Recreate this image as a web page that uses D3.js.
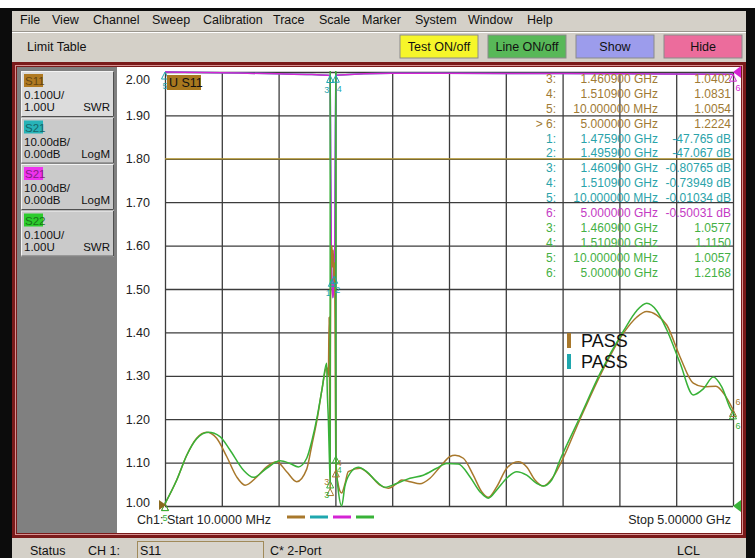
<!DOCTYPE html>
<html><head><meta charset="utf-8">
<script src="https://cdn.jsdelivr.net/npm/d3@7"></script>
<style>body{margin:0;background:#fff}svg{display:block}text{font-family:"Liberation Sans",Arial,sans-serif}</style>
</head><body><svg id="c" width="755" height="558"></svg>
<script>
// ---------- data ----------
const menuItems = ["File","View","Channel","Sweep","Calibration","Trace","Scale","Marker","System","Window","Help"];
const toolButtons = ["Test ON/off","Line ON/off","Show","Hide"];
const traceNames = ["S11","S21","S21","S22"];
const tracePerDiv = ["0.100U/","10.00dB/","10.00dB/","0.100U/"];
const traceRef = ["1.00U","0.00dB","0.00dB","1.00U"];
const traceFormat = ["SWR","LogM","LogM","SWR"];
const yTicks = [2.00,1.90,1.80,1.70,1.60,1.50,1.40,1.30,1.20,1.10,1.00];
const limitS11 = [1.80];

const freqS11 = [0.01,0.113,0.201,0.288,0.376,0.464,0.552,0.64,0.713,0.816,0.903,0.991,1.079,1.167,1.255,1.30,1.35,1.39,1.43,1.445,1.452,1.456,1.4609,1.463,1.466,1.47,1.476,1.482,1.488,1.494,1.50,1.505,1.5109,1.52,1.54,1.562,1.59,1.62,1.723,1.811,1.899,1.972,2.046,2.089,2.162,2.25,2.338,2.426,2.514,2.558,2.631,2.718,2.792,2.85,2.924,3.012,3.114,3.188,3.26,3.333,3.42,3.489,3.656,3.831,4.042,4.154,4.242,4.33,4.418,4.534,4.651,4.74,4.85,4.93,5.0];
const swrS11  = [1.0054,1.06,1.117,1.156,1.17,1.156,1.114,1.067,1.048,1.067,1.09,1.102,1.079,1.056,1.085,1.14,1.205,1.27,1.32,1.30,1.435,1.25,1.0402,1.35,1.52,1.58,1.60,1.55,1.59,1.52,1.56,1.35,1.0831,1.067,1.04,1.03,1.05,1.079,1.087,1.071,1.048,1.041,1.052,1.06,1.056,1.051,1.064,1.09,1.114,1.117,1.11,1.071,1.033,1.02,1.044,1.087,1.102,1.09,1.06,1.046,1.067,1.10,1.20,1.30,1.40,1.435,1.448,1.44,1.417,1.344,1.283,1.275,1.276,1.255,1.2224];

const freqS22 = [0.01,0.113,0.201,0.288,0.39,0.493,0.581,0.698,0.786,0.903,1.02,1.108,1.181,1.255,1.30,1.35,1.39,1.43,1.436,1.445,1.455,1.4609,1.4615,1.5100,1.5109,1.52,1.535,1.562,1.59,1.635,1.708,1.782,1.87,1.943,2.046,2.162,2.279,2.397,2.485,2.587,2.69,2.777,2.85,2.924,3.012,3.1,3.188,3.275,3.333,3.407,3.48,3.656,3.831,4.042,4.154,4.242,4.33,4.418,4.534,4.651,4.74,4.827,4.9,4.988,5.0];
const swrS22  = [1.0057,1.06,1.117,1.155,1.17,1.16,1.129,1.083,1.066,1.087,1.104,1.098,1.09,1.11,1.15,1.21,1.27,1.329,1.26,1.20,1.10,1.0577,2.6,2.6,1.115,1.07,1.03,1.00,1.045,1.075,1.089,1.079,1.056,1.043,1.052,1.064,1.071,1.087,1.098,1.097,1.067,1.033,1.018,1.037,1.064,1.079,1.071,1.052,1.046,1.06,1.106,1.205,1.305,1.405,1.45,1.467,1.45,1.406,1.33,1.256,1.27,1.297,1.275,1.22,1.2168];

const freqS21 = [0.01,0.5,1.0,1.3,1.4609,1.465,1.47,1.4759,1.485,1.4959,1.502,1.506,1.5109,2.0,3.0,4.0,5.0];
const dbS21   = [-0.01,-0.2,-0.4,-0.6,-0.81,-20,-40,-47.765,-52,-47.067,-40,-20,-0.74,-0.3,-0.35,-0.4,-0.5];

// markers
const markerTrace = [0,0,0,0, 1,1,1,1,1, 2, 3,3,3,3];
const markerNum   = ["3","4","5","> 6","1","2","3","4","5","6","3","4","5","6"];
const markerFreqText = ["1.460900 GHz","1.510900 GHz","10.000000 MHz","5.000000 GHz","1.475900 GHz","1.495900 GHz","1.460900 GHz","1.510900 GHz","10.000000 MHz","5.000000 GHz","1.460900 GHz","1.510900 GHz","10.000000 MHz","5.000000 GHz"];
const markerFreq  = [1.4609,1.5109,0.01,5.0, 1.4759,1.4959,1.4609,1.5109,0.01, 5.0, 1.4609,1.5109,0.01,5.0];
const markerValue = [1.0402,1.0831,1.0054,1.2224, -47.765,-47.067,-0.80765,-0.73949,-0.01034, -0.50031, 1.0577,1.1150,1.0057,1.2168];
const markerValueText = ["1.0402","1.0831","1.0054","1.2224","-47.765 dB","-47.067 dB","-0.80765 dB","-0.73949 dB","-0.01034 dB","-0.50031 dB","1.0577","1.1150","1.0057","1.2168"];
const passLabels = ["PASS","PASS"];

// ---------- styles ----------
const traceColors = ["#a8782c","#1fa7ae","#d424d4","#38b238"];
const boxColors = ["#b07a22","#27b3b8","#ee33ee","#2ccc2c"];
const tableColors = ["#a07a34","#2aa3aa","#c43ac4","#44b044"];
const menuX = [20,52,93,152,203,273,319,362,415,468,527];

const svg = d3.select("#c");
const X0 = 165, X1 = 733, YT = 72, YB = 506;
const x = d3.scaleLinear().domain([0.01, 5.0]).range([X0, X1]);
const y = d3.scaleLinear().domain([1.0, 2.0]).range([YB, YT]);
const yDb = d3.scaleLinear().domain([-100, 0]).range([YB, YT]);

// ---------- window chrome ----------
svg.append("rect").attr("width",755).attr("height",558).attr("fill","#fff");
svg.append("rect").attr("x",0).attr("y",8).attr("width",755).attr("height",550).attr("fill","#0c0c0c");
svg.append("rect").attr("x",12).attr("y",11).attr("width",734).attr("height",51).attr("fill","#d4d0c8");
svg.append("line").attr("x1",12).attr("x2",746).attr("y1",31.5).attr("y2",31.5).attr("stroke","#9a968e");
svg.append("line").attr("x1",12).attr("x2",746).attr("y1",32.5).attr("y2",32.5).attr("stroke","#fff");

menuItems.forEach((m,i) => {
  svg.append("text").attr("x",menuX[i]).attr("y",24).attr("font-size",12.5).attr("fill","#111").text(m);
});
svg.append("text").attr("x",27).attr("y",51).attr("font-size",12.5).attr("fill","#111").text("Limit Table");

const btnFill = ["#f6f62a","#58b858","#9c9cec","#ec6c9c"];
toolButtons.forEach((b,i) => {
  const bx = 400 + i*88;
  svg.append("rect").attr("x",bx).attr("y",35).attr("width",78).attr("height",23).attr("fill",btnFill[i])
    .attr("stroke","#8a8a8a").attr("stroke-width",1);
  svg.append("text").attr("x",bx+39).attr("y",51).attr("text-anchor","middle").attr("font-size",12.5).attr("fill","#111").text(b);
});

// main frame
svg.append("rect").attr("x",12).attr("y",62).attr("width",734).attr("height",476).attr("fill","#7a1a1a");
svg.append("rect").attr("x",15.5).attr("y",65.5).attr("width",727).attr("height",469).attr("fill","none").attr("stroke","#d89090");
svg.append("rect").attr("x",17).attr("y",67).attr("width",100).attr("height",466).attr("fill","#808080");
svg.append("rect").attr("x",117).attr("y",67).attr("width",624).attr("height",466).attr("fill","#fff");

// status bar
svg.append("rect").attr("x",12).attr("y",538).attr("width",734).attr("height",20).attr("fill","#d4d0c8");
svg.append("text").attr("x",30).attr("y",555).attr("font-size",12.5).attr("fill","#111").text("Status");
svg.append("text").attr("x",88).attr("y",555).attr("font-size",12.5).attr("fill","#111").text("CH 1:");
svg.append("rect").attr("x",137.5).attr("y",541.5).attr("width",126).attr("height",17).attr("fill","#d8d4cc").attr("stroke","#a08a5a");
svg.append("text").attr("x",140).attr("y",555).attr("font-size",12.5).attr("fill","#111").text("S11");
svg.append("text").attr("x",270).attr("y",555).attr("font-size",12.5).attr("fill","#111").text("C* 2-Port");
svg.append("text").attr("x",677).attr("y",555).attr("font-size",12.5).attr("fill","#111").text("LCL");

// trace buttons
traceNames.forEach((n,i) => {
  const by = 71 + i*46.5;
  svg.append("rect").attr("x",21.5).attr("y",by+0.5).attr("width",92).attr("height",45)
    .attr("fill", i===0 ? "#dcdcdc" : "#cacaca").attr("stroke","#f4f4f4");
  svg.append("path").attr("d",`M21.5,${by+45.5} H113.5 V${by+0.5}`).attr("fill","none").attr("stroke","#505050");
  svg.append("rect").attr("x",24).attr("y",by+3).attr("width",19).attr("height",13).attr("fill",boxColors[i]);
  svg.append("text").attr("x",25).attr("y",by+14).attr("font-size",11.5).attr("fill",d3.color(boxColors[i]).darker(1.6)).text(n);
  svg.append("text").attr("x",24).attr("y",by+28).attr("font-size",11.5).attr("fill","#111").text(tracePerDiv[i]);
  svg.append("text").attr("x",24).attr("y",by+40).attr("font-size",11.5).attr("fill","#111").text(traceRef[i]);
  svg.append("text").attr("x",110).attr("y",by+40).attr("text-anchor","end").attr("font-size",11.5).attr("fill","#111").text(traceFormat[i]);
});

// ---------- grid via axes ----------
const xGrid = d3.range(11).map(i => x.invert(X0 + i*(X1-X0)/10));
const gx = svg.append("g").attr("transform",`translate(0,${YB})`)
  .call(d3.axisBottom(x).tickValues(xGrid).tickSize(-(YB-YT)).tickFormat(""));
gx.select(".domain").remove();
gx.selectAll("line").attr("stroke","#3c3c3c").attr("stroke-width",1.3);

const gy = svg.append("g").attr("transform",`translate(${X0},0)`)
  .call(d3.axisLeft(y).tickValues(yTicks).tickSize(-(X1-X0)).tickPadding(15).tickFormat(d3.format(".2f")));
gy.select(".domain").remove();
gy.selectAll("line").attr("stroke","#3c3c3c").attr("stroke-width",1.3);
gy.selectAll("text").attr("font-size",12.5).attr("fill","#222").attr("font-family","Liberation Sans, Arial, sans-serif")
  .attr("dy", d => d===2.0 ? "0.95em" : d===1.0 ? "0.05em" : "0.32em");

svg.selectAll(".lim").data(limitS11).join("line").attr("x1",X0).attr("x2",X1)
  .attr("y1",d=>y(d)).attr("y2",d=>y(d)).attr("stroke","#b89a30").attr("stroke-width",1.3);

// ---------- traces ----------
svg.append("clipPath").attr("id","pc").append("rect").attr("x",X0-2).attr("y",YT-1).attr("width",X1-X0+4).attr("height",YB-YT+2);
const plot = svg.append("g").attr("clip-path","url(#pc)");
const lineSwr = d3.line().x(d=>x(d[0])).y(d=>y(d[1])).curve(d3.curveMonotoneX);
const lineDb = d3.line().x(d=>x(d[0])).y(d=>yDb(d[1])).curve(d3.curveMonotoneX);
const s21 = freqS21.map((f,i)=>[f,dbS21[i]]);
plot.append("path").attr("d",lineDb(s21)).attr("fill","none").attr("stroke",traceColors[1]).attr("stroke-width",1.5);
plot.append("path").attr("d",lineDb(s21)).attr("fill","none").attr("stroke",traceColors[2]).attr("stroke-width",1.5);
plot.append("path").attr("d",lineSwr(freqS11.map((f,i)=>[f,swrS11[i]]))).attr("fill","none").attr("stroke",traceColors[0]).attr("stroke-width",1.5);
plot.append("path").attr("d",lineSwr(freqS22.map((f,i)=>[f,swrS22[i]]))).attr("fill","none").attr("stroke",traceColors[3]).attr("stroke-width",1.5);

// markers on traces
markerFreq.forEach((f,i) => {
  const t = markerTrace[i];
  const px = x(f);
  const py = (t===1||t===2) ? yDb(markerValue[i]) : y(markerValue[i]);
  const col = traceColors[t];
  svg.append("path").attr("d",`M${px},${py} l-3.5,7 h7 z`).attr("fill","none").attr("stroke",col).attr("stroke-width",1);
  if (t===0 && f===0.01) return;
  const ly = t===0 ? py-4 : py+17;
  const inNotch = f>1.4 && f<1.6;
  const left = inNotch && (markerNum[i]==="1" || markerNum[i]==="3");
  const right = inNotch && !left;
  const lx = f===5.0 ? px+5 : left ? px-1 : right ? px+1 : px;
  svg.append("text").attr("x",lx).attr("y",ly)
    .attr("text-anchor", left ? "end" : right ? "start" : "middle")
    .attr("font-size",9).attr("fill",col)
    .text(markerNum[i].replace("> ",""));
});
svg.append("path").attr("d",`M${X0-6},${YB-6} l7,5 l-7,5 z`).attr("fill","#8a6a1e");
svg.append("path").attr("d",`M${X1+8},${YB-6} l-8,6 l8,6 z`).attr("fill",traceColors[3]);
svg.append("path").attr("d",`M${X1+8},${YT-6} l-8,6 l8,6 z`).attr("fill",traceColors[2]);

// active trace tag
svg.append("rect").attr("x",167).attr("y",75).attr("width",34).attr("height",15).attr("fill","#a8781e");
svg.append("text").attr("x",169).attr("y",87).attr("font-size",12.5).attr("fill","#111").text("U S11");

// ---------- marker table ----------
const rowY = d3.scaleLinear().domain([0,13]).range([83,276.5]);
markerNum.forEach((n,i) => {
  const col = tableColors[markerTrace[i]];
  svg.append("text").attr("x",556).attr("y",rowY(i)).attr("text-anchor","end").attr("font-size",12).attr("fill",col).text(n+":");
  svg.append("text").attr("x",658).attr("y",rowY(i)).attr("text-anchor","end").attr("font-size",12).attr("fill",col).text(markerFreqText[i]);
  svg.append("text").attr("x",731).attr("y",rowY(i)).attr("text-anchor","end").attr("font-size",12).attr("fill",col).text(markerValueText[i]);
});

passLabels.forEach((p,i) => {
  svg.append("rect").attr("x",567).attr("y",333+i*21).attr("width",4).attr("height",15).attr("fill",traceColors[i]);
  svg.append("text").attr("x",581).attr("y",347+i*21).attr("font-size",18).attr("fill","#111").text(p);
});

// bottom annotations
svg.append("text").attr("x",137).attr("y",524).attr("font-size",12.5).attr("fill","#222").text("Ch1: Start  10.0000 MHz");
traceColors.forEach((c,i) => {
  svg.append("line").attr("x1",287+i*23).attr("x2",305+i*23).attr("y1",517).attr("y2",517).attr("stroke",c).attr("stroke-width",3);
});
svg.append("text").attr("x",731).attr("y",524).attr("text-anchor","end").attr("font-size",12.5).attr("fill","#222").text("Stop  5.00000 GHz");
</script></body></html>
